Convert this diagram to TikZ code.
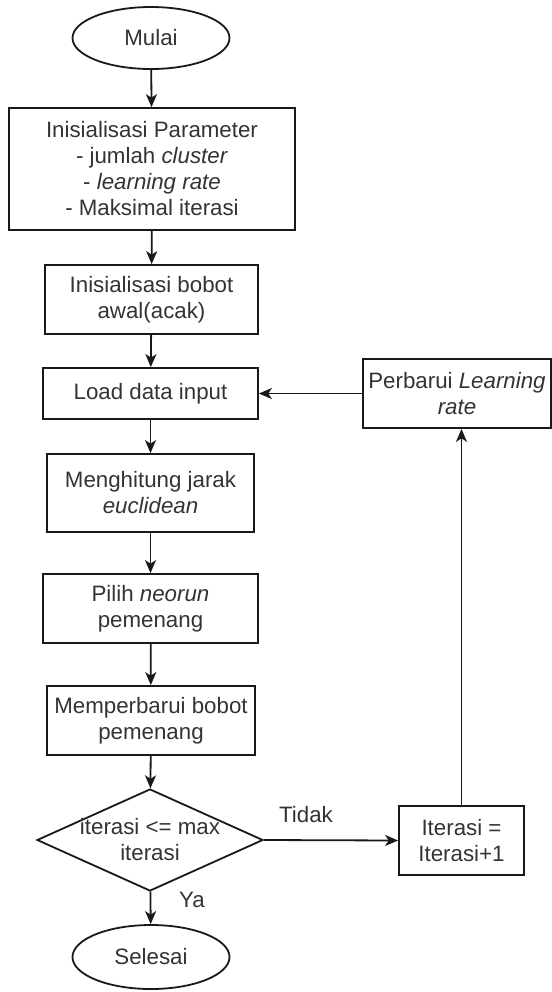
\documentclass[tikz,border=0pt]{standalone}
\usepackage{fontspec}
\setmainfont{Liberation Sans}
\usetikzlibrary{shapes.geometric,arrows.meta}

\begin{document}
\begin{tikzpicture}[
    x=0.5pt, y=-0.5pt,
    mytext/.style={font=\fontsize{11.15pt}{13pt}\selectfont, text=black!80, align=center},
    mybox/.style={mytext, rectangle, draw=black!90, line width=0.9pt, inner sep=1pt},
    myterm/.style={mytext, ellipse, draw=black!90, line width=0.9pt, inner sep=0pt, minimum width=78.5pt, minimum height=31pt},
    mydecision/.style={diamond, draw=black!90, line width=0.9pt, inner sep=0pt, minimum width=113pt, minimum height=51pt},
    myarrow/.style={-{Stealth[length=6.5pt,width=5.5pt,inset=1.8pt]}, line width=0.9pt, draw=black!90},
]
\useasboundingbox (0,0) rectangle (552,992);

% alur utama
\node[myterm] (mulai) at (151,38) {Mulai};
\node[mybox, minimum width=143pt, minimum height=61pt] (param) at (152,169) {Inisialisasi Parameter\\- jumlah \textit{cluster}\\- \textit{learning rate}\\- Maksimal iterasi};
\node[mybox, minimum width=106.5pt, minimum height=34.5pt] (bobot) at (151.5,299.5) {Inisialisasi bobot\\awal(acak)};
\node[mybox, minimum width=107.5pt, minimum height=25.5pt] (load) at (150.5,393.5) {Load data input};
\node[mybox, minimum width=103.5pt, minimum height=39pt] (jarak) at (150.5,493) {Menghitung jarak\\\textit{euclidean}};
\node[mybox, minimum width=107.5pt, minimum height=34.5pt] (pilih) at (150.5,608.5) {Pilih \textit{neorun}\\pemenang};
\node[mybox, minimum width=104pt, minimum height=34.5pt] (update) at (151,720.5) {Memperbarui bobot\\pemenang};
\node[mydecision, label={[mytext]center:iterasi <= max\\iterasi}] (cek) at (150,840) {};
\node[myterm, minimum height=32pt] (selesai) at (151,957) {Selesai};

% loop
\node[mybox, minimum width=62.5pt, minimum height=34.5pt] (iter) at (461.5,840.5) {Iterasi =\\Iterasi+1};
\node[mybox, minimum width=94pt, minimum height=34.5pt] (lrate) at (457,393.5) {Perbarui \textit{Learning}\\\textit{rate}};

\draw[myarrow] (mulai) -- (param);
\draw[myarrow] (param) -- (bobot);
\draw[myarrow] (bobot) -- (load);
\draw[myarrow] (load) -- (jarak);
\draw[myarrow] (jarak) -- (pilih);
\draw[myarrow] (pilih) -- (update);
\draw[myarrow] (update) -- (cek);
\draw[myarrow] (cek) -- (selesai);
\draw[myarrow] (cek.east) -- (iter.west);
\draw[myarrow] (iter.north) -- (iter.north |- lrate.south);
\draw[myarrow] (lrate.west) -- (load.east);

\node[mytext] (tidak) at (306,815) {Tidak};
\node[mytext] (ya) at (192,900) {Ya};
\end{tikzpicture}
\end{document}
